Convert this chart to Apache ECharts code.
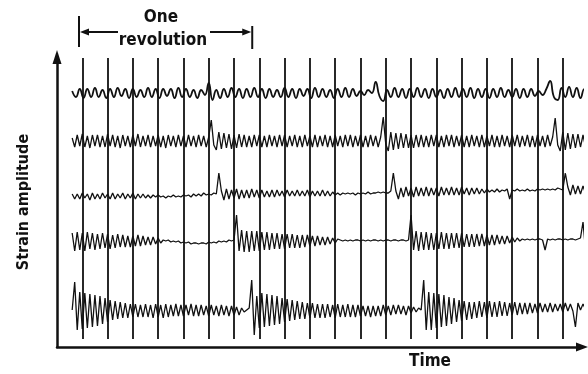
<!DOCTYPE html>
<html>
<head>
<meta charset="utf-8">
<script src="https://cdn.jsdelivr.net/npm/echarts@6/dist/echarts.min.js"></script>
<style>
  html, body { margin: 0; padding: 0; background: #fff; }
  #chart { width: 588px; height: 374px; }
</style>
</head>
<body>
<div id="chart"></div>
<script>
// Time is measured in timing-mark intervals; strain in trace units.
const timingMarks = [0, 1, 2, 3, 4, 5, 6, 7, 8, 9, 10, 11, 12, 13, 14, 15, 16, 17, 18, 19];
const markRange = [8, 289];
const revolution = [-0.13, 6.72];

// Oscillograph traces, sampled from t = -0.4 onwards
const traceStart = -0.4;
const traceStep = [0.15, 0.1, 0.1, 0.1, 0.1];
const traceBase = [254, 206, 154, 106, 37];

const trace1 = [
  2,-4,4,-5,4,-4,5,-4,3,-5,
  4,-4,5,-3,4,-5,4,-4,3,-4,
  5,-4,4,-5,4,-3,4,-5,5,-4,
  4,-4,3,-5,3,-2,10,-7,3,-5,
  4,-4,5,-4,4,-5,4,-4,5,-4,
  4,-5,4,-4,3,-4,5,-4,4,-5,
  4,-3,4,-5,5,-4,4,-4,3,-5,
  4,-4,5,-4,4,-3,2,-2,3,0,
  11,-3,-8,3,-4,5,-4,4,-5,4,
  -4,5,-4,4,-5,4,-4,3,-5,4,
  -4,5,-4,4,-4,5,-5,4,-4,4,
  -5,4,-4,5,-4,3,-4,4,-5,4,
  -4,4,-3,2,-2,4,12,-4,-7,5,
  -4,6,-4,5,-5,4,-3
];

const trace2 = [
  3,-6,6,-5,7,-6,5,-7,6,-5,
  6,-6,5,-6,7,-5,6,-6,5,-7,
  6,-5,5,-6,6,-5,7,-6,5,-5,
  6,-6,5,-5,6,-6,5,-7,6,-5,
  5,-6,6,-5,5,-6,6,-5,5,-6,
  6,-5,5,-6,4,21,-4,-9,9,-8,
  8,-7,7,-8,6,-7,7,-6,6,-6,
  5,-6,6,-5,6,-6,5,-6,6,-5,
  5,-6,6,-5,6,-6,5,-5,6,-6,
  5,-6,6,-5,5,-6,6,-6,5,-5,
  6,-6,5,-6,6,-5,5,-6,6,-5,
  6,-6,5,-5,6,-6,5,-6,6,-5,
  5,-6,4,24,-3,-10,9,-9,8,-8,
  8,-7,7,-7,6,-7,6,-6,6,-6,
  5,-6,6,-5,6,-6,5,-6,6,-5,
  6,-6,5,-5,6,-6,5,-6,6,-5,
  5,-6,6,-6,5,-5,6,-6,5,-6,
  6,-5,5,-6,6,-5,6,-6,5,-5,
  6,-6,5,-6,6,-5,5,-6,6,-5,
  4,23,-4,-10,9,-9,8,-8,7,-7,
  7,-6,6,-6,5
];

const trace3 = [
  -1,-6,-1,-6,0,-5,-1,-7,0,-6,
  -1,-6,0,-5,-1,-6,0,-6,-1,-5,
  0,-6,-1,-5,0,-6,-1,-5,-1,-5,
  -2,-5,-2,-4,-2,-4,-3,-5,-3,-4,
  -2,-4,-3,-4,-2,-3,-2,-4,-1,-3,
  -1,-3,0,-2,-1,-2,0,-1,20,2,
  -7,4,-6,3,-5,4,-6,3,-5,3,
  -5,4,-4,3,-5,3,-4,2,-4,3,
  -4,3,-3,2,-4,3,-3,2,-3,3,
  -3,2,-3,3,-4,2,-3,2,-3,3,
  -3,2,-3,1,-2,0,-2,0,-1,0,
  -1,0,-2,0,-1,0,-1,1,-1,0,
  0,1,0,1,0,0,2,20,2,-6,
  5,-4,6,-3,5,-4,6,-3,5,-3,
  6,-3,5,-2,5,-3,6,-2,5,-2,
  6,-2,5,-2,6,-1,5,-2,5,-1,
  5,-1,4,0,4,1,3,1,4,1,
  3,2,4,-6,3,2,4,2,3,2,
  4,2,3,2,4,3,4,3,4,3,
  4,3,5,4,3,20,6,-2,8,-1,
  7,-1,7,0,6
];

const trace4 = [
  8,-10,9,-9,8,-10,9,-8,8,-9,
  7,-8,8,-7,7,-8,6,-7,7,-6,
  6,-6,5,-6,5,-5,6,-5,5,-4,
  4,-4,4,-3,3,-2,1,0,1,-1,
  0,-1,0,-2,-1,-2,-1,-3,-2,-2,
  -3,-2,-2,-3,-1,-2,-1,-2,0,-1,
  0,-1,1,0,1,26,-10,11,-11,10,
  -11,10,-10,10,-10,9,-9,9,-9,8,
  -8,8,-8,7,-8,7,-7,7,-7,6,
  -7,6,-6,6,-5,5,-5,5,-4,4,
  -4,4,-3,3,-2,2,1,0,1,0,
  1,0,1,1,0,1,0,1,0,1,
  1,0,1,0,1,1,0,1,1,0,
  1,1,0,1,26,-9,10,-10,9,-9,
  9,-9,8,-9,8,-8,9,-8,8,-8,
  8,-7,8,-7,8,-6,7,-6,7,-6,
  7,-5,7,-5,6,-4,6,-4,6,-3,
  5,-3,5,-2,4,-1,3,0,2,1,
  2,1,2,1,2,2,1,-9,2,1,
  2,1,2,2,1,2,1,2,2,1,
  2,3,19,-9,4
];

const trace5 = [
  0,28,-20,18,-19,17,-18,16,-17,15,
  -16,14,-14,12,-12,10,-10,9,-9,8,
  -8,7,-8,6,-7,6,-7,5,-7,6,
  -7,5,-8,6,-7,5,-8,6,-7,5,
  -6,6,-6,5,-6,5,-5,6,-6,5,
  -6,5,-5,4,-6,5,-5,4,-6,5,
  -5,4,-6,4,-5,3,-5,2,-2,0,
  2,30,-25,14,-18,17,-17,16,-16,15,
  -15,14,-14,12,-12,11,-11,10,-10,9,
  -9,8,-9,7,-8,7,-8,6,-8,6,
  -8,6,-7,5,-8,6,-7,5,-7,6,
  -7,5,-7,5,-6,4,-6,4,-7,4,
  -6,4,-6,5,-5,4,-5,5,-4,5,
  -4,4,-5,4,-3,3,-2,2,0,30,
  -20,18,-20,17,-18,16,-17,15,-16,13,
  -14,12,-12,10,-11,9,-10,8,-9,8,
  -8,9,-7,8,-8,9,-7,8,-7,9,
  -6,8,-6,7,-5,8,-5,7,-4,7,
  -4,7,-3,6,-3,7,-2,6,-2,7,
  -2,6,-1,6,-2,7,-1,6,-1,-17,
  7,0,6,1,5
];

const traces = [trace1, trace2, trace3, trace4, trace5];
const FONT = "'DejaVu Sans Condensed', 'Liberation Sans Narrow', 'DejaVu Sans', sans-serif";
const INK = '#111';

const chart = echarts.init(document.getElementById('chart'), null, { renderer: 'canvas' });

function traceSeries(values, k) {
  const pts = values.map((v, i) => [traceStart + i * traceStep[k], traceBase[k] + v]);
  return {
    type: 'line',
    data: pts,
    showSymbol: false,
    clip: false,
    silent: true,
    animation: false,
    smooth: k === 0 ? 0.5 : false,
    lineStyle: { color: INK, width: k === 0 ? 1.8 : 1.3 },
    z: 3
  };
}

const series = traces.map(traceSeries);

// timing marks
series.push({
  type: 'line',
  data: [],
  silent: true,
  animation: false,
  markLine: {
    silent: true,
    symbol: 'none',
    animation: false,
    label: { show: false },
    lineStyle: { color: INK, width: 1.8, type: 'solid' },
    data: timingMarks.map(t => [{ coord: [t, markRange[0]] }, { coord: [t, markRange[1]] }])
  }
});

chart.setOption({
  animation: false,
  backgroundColor: '#fff',
  grid: { left: 57, right: 6, top: 57, bottom: 27 },
  xAxis: {
    type: 'value', min: -1, max: 19.76,
    axisLine: { show: true, onZero: false, lineStyle: { color: INK, width: 2.5 }, symbol: ['none', 'triangle'], symbolSize: [9, 12] },
    axisTick: { show: false }, axisLabel: { show: false }, splitLine: { show: false }
  },
  yAxis: {
    type: 'value', min: 0, max: 290,
    name: 'Strain amplitude',
    nameLocation: 'middle', nameRotate: 90, nameGap: 25,
    nameTextStyle: { color: INK, fontFamily: FONT, fontSize: 16, fontWeight: 'bold' },
    axisLine: { show: true, onZero: false, lineStyle: { color: INK, width: 2.5 }, symbol: ['none', 'triangle'], symbolSize: [9, 14] },
    axisTick: { show: false }, axisLabel: { show: false }, splitLine: { show: false }
  },
  series: series
});

// "One revolution" bracket, placed on the time axis
const xa = chart.convertToPixel({ xAxisIndex: 0 }, revolution[0]);
const xb = chart.convertToPixel({ xAxisIndex: 0 }, revolution[1]);
const ay = 32;
const lineStyle = { stroke: INK, lineWidth: 2 };
const textFont = 'bold 17px ' + FONT;
chart.setOption({
  graphic: [
    { type: 'line', shape: { x1: xa, y1: 16, x2: xa, y2: 47 }, style: lineStyle },
    { type: 'line', shape: { x1: xb, y1: 26, x2: xb, y2: 49 }, style: lineStyle },
    { type: 'line', shape: { x1: xa + 6, y1: ay, x2: 118, y2: ay }, style: lineStyle },
    { type: 'line', shape: { x1: 210, y1: ay, x2: xb - 6, y2: ay }, style: lineStyle },
    { type: 'polygon', shape: { points: [[xa + 1, ay], [xa + 10, ay - 3.5], [xa + 10, ay + 3.5]] }, style: { fill: INK } },
    { type: 'polygon', shape: { points: [[xb - 1, ay], [xb - 10, ay - 3.5], [xb - 10, ay + 3.5]] }, style: { fill: INK } },
    { type: 'text', x: 161, y: 18, style: { text: 'One', fill: INK, font: textFont, align: 'center', verticalAlign: 'middle' } },
    { type: 'text', x: 163, y: 41, style: { text: 'revolution', fill: INK, font: textFont, align: 'center', verticalAlign: 'middle' } },
    { type: 'text', x: 430, y: 362, style: { text: 'Time', fill: INK, font: textFont, align: 'center', verticalAlign: 'middle' } }
  ]
});
</script>
</body>
</html>
